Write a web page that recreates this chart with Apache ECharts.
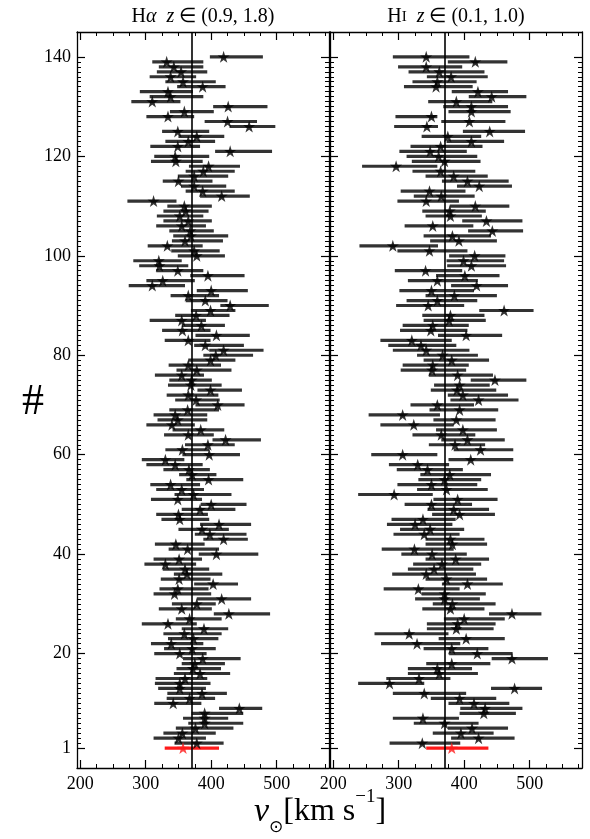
<!DOCTYPE html>
<html>
<head>
<meta charset="utf-8">
<script src="https://cdn.jsdelivr.net/npm/echarts@6/dist/echarts.min.js"></script>
<style>
  html, body { margin: 0; padding: 0; background: #fff; }
  #chart { width: 590px; height: 839px; }
</style>
</head>
<body>
<div id="chart"></div>
<script>
// H-alpha panel, row 1 (reference, red) first, up to row 140
const haVal = [357,378,350,356,376,390,390,390,443,342,367,386,352,352,360,383,372,375,387,352,
  371,339,373,359,389,334,367,427,355,378,416,344,349,403,351,363,360,330,351,408,
  364,346,419,398,386,412,352,350,383,400,349,373,355,338,396,371,366,345,330,397,
  356,395,422,365,384,340,349,345,364,410,377,365,399,369,370,355,378,365,399,407,
  419,391,365,408,356,385,355,377,399,429,391,365,400,310,326,395,349,321,320,378,
  374,333,360,369,368,355,365,352,361,359,312,416,387,374,350,374,388,396,346,345,
  429,349,365,378,349,458,425,334,359,426,310,338,334,387,357,338,354,343,332,419];
const haLo = [329,344,312,327,346,365,357,370,412,313,332,333,319,314,315,343,347,355,357,313,
  328,308,334,327,355,294,346,404,320,340,378,312,321,374,323,343,326,298,312,381,
  335,314,388,375,350,383,324,316,355,384,308,344,316,307,362,351,327,301,294,356,
  330,360,402,328,341,301,318,312,336,376,345,332,379,334,336,314,347,335,365,388,
  397,374,329,376,325,355,306,345,369,414,361,338,378,274,301,368,316,290,281,349,
  339,303,340,342,336,316,327,317,327,333,272,383,361,354,326,349,361,366,308,313,
  406,307,330,350,325,428,390,301,337,403,278,306,291,348,330,306,317,320,310,398];
const haHi = [412,419,392,407,434,449,426,449,478,385,406,424,392,399,394,429,415,421,445,393,
  407,388,411,416,426,378,416,490,401,407,461,400,396,441,399,417,397,377,386,472,
  412,390,456,454,427,461,397,395,437,454,386,431,389,383,449,408,398,387,359,444,
  397,436,476,404,420,375,394,394,412,451,413,411,447,416,401,389,431,415,437,464,
  480,450,399,459,399,421,392,428,437,488,425,412,456,360,375,451,388,365,355,421,
  413,387,418,426,404,392,401,388,396,401,347,459,436,423,402,426,436,444,387,397,
  493,383,406,420,397,498,470,374,404,486,353,388,372,422,407,377,394,388,388,479];

// H I panel, row 1 (reference, red) first, up to row 140
const hiVal = [381,336,422,395,412,370,337,430,432,415,393,339,477,286,331,362,359,381,473,420,
  381,328,403,316,388,390,400,473,379,382,370,370,330,405,373,342,354,366,387,351,
  324,382,379,339,348,325,337,393,384,350,390,293,373,350,370,378,344,329,410,306,
  425,386,405,365,398,323,388,306,393,359,422,398,389,393,447,390,351,352,381,367,
  342,334,320,403,349,352,377,379,461,345,359,385,350,419,359,401,341,411,399,416,
  347,291,392,382,443,352,434,379,378,417,342,365,347,423,405,384,364,296,370,361,
  348,364,411,375,439,343,408,350,411,411,388,442,421,357,359,380,362,342,417,342];
const hiLo = [342,286,380,352,375,323,291,393,394,376,349,291,441,238,281,314,314,342,442,377,
  338,273,361,263,343,343,369,438,336,352,325,335,277,366,341,290,314,322,341,304,
  274,341,341,292,302,282,289,351,344,309,353,238,328,298,330,333,297,285,376,258,
  384,346,365,321,357,272,353,254,347,318,379,375,349,354,410,346,303,306,338,328,
  291,284,272,360,302,306,338,336,423,296,312,341,301,380,314,357,294,374,373,377,
  298,240,348,338,406,309,397,341,336,378,298,323,303,389,366,341,321,244,320,312,
  301,318,373,335,398,293,365,295,376,368,345,407,381,308,321,343,315,299,375,291];
const hiHi = [437,394,477,445,467,422,392,479,489,469,449,403,519,339,379,421,412,440,528,474,
  437,394,462,376,445,448,462,518,431,448,424,433,393,459,435,418,414,426,438,404,
  384,435,431,393,400,382,387,447,438,412,451,352,436,420,426,441,398,377,475,359,
  475,432,462,417,450,384,448,363,452,415,483,467,449,439,495,444,403,407,438,421,
  408,388,381,458,405,407,433,431,506,400,420,450,415,467,421,454,397,464,461,463,
  405,360,450,441,490,414,489,427,433,469,392,416,402,473,468,436,417,359,425,420,
  404,428,461,426,493,360,463,359,471,467,443,495,467,413,419,436,431,397,466,408];

const refV = 370;
const xMajor = [200, 300, 400, 500];
const yMajor = [1, 20, 40, 60, 80, 100, 120, 140];
const xMinor = [];
for (let v = 225; v <= 575; v += 25) if (xMajor.indexOf(v) < 0) xMinor.push(v);
const yMinor = [];
for (let v = 2; v <= 139; v++) if (yMajor.indexOf(v) < 0) yMinor.push(v);

const serif = 'Liberation Serif';
const chart = echarts.init(document.getElementById('chart'));

const line = { show: true, onZero: false, lineStyle: { color: '#000', width: 1.3 } };
const noLine = { show: false, onZero: false };

function tick(len, vals) {
  return { show: true, inside: true, length: len, customValues: vals.slice(),
    lineStyle: { color: '#000', width: len > 5 ? 1.2 : 1 } };
}

function xAxes(g) {
  const base = { gridIndex: g, type: 'value', min: 195, max: 580, splitLine: { show: false } };
  return [
    Object.assign({}, base, { position: 'bottom', axisLine: line, axisTick: tick(8, xMajor),
      axisLabel: { show: true, customValues: xMajor.slice(), color: '#000', fontFamily: serif, fontSize: 18, margin: 7 } }),
    Object.assign({}, base, { position: 'bottom', axisLine: noLine, axisTick: tick(4, xMinor), axisLabel: { show: false } }),
    Object.assign({}, base, { position: 'top', axisLine: line, axisTick: tick(8, xMajor), axisLabel: { show: false } }),
    Object.assign({}, base, { position: 'top', axisLine: noLine, axisTick: tick(4, xMinor), axisLabel: { show: false } })
  ];
}

function yAxes(g, withLabels) {
  const base = { gridIndex: g, type: 'value', min: -3, max: 145, splitLine: { show: false } };
  return [
    Object.assign({}, base, { position: 'left', axisLine: line, axisTick: tick(8, yMajor),
      axisLabel: withLabels ? { show: true, customValues: yMajor.slice(), color: '#000', fontFamily: serif, fontSize: 18, margin: 6 } : { show: false } }),
    Object.assign({}, base, { position: 'left', axisLine: noLine, axisTick: tick(4, yMinor), axisLabel: { show: false } }),
    Object.assign({}, base, { position: 'right', axisLine: line, axisTick: tick(8, yMajor), axisLabel: { show: false } }),
    Object.assign({}, base, { position: 'right', axisLine: noLine, axisTick: tick(4, yMinor), axisLabel: { show: false } })
  ];
}

const starPath = 'path://M50,0 L61.2,34.5 L97.6,34.5 L68.2,55.9 L79.4,90.5 L50,69.1 L20.6,90.5 L31.8,55.9 L2.4,34.5 L38.8,34.5 Z';

function barItem(params, api) {
  const p1 = api.coord([api.value(0), api.value(2)]);
  const p2 = api.coord([api.value(1), api.value(2)]);
  return {
    type: 'rect',
    shape: { x: p1[0], y: p1[1] - 1.6, width: p2[0] - p1[0], height: 3.2 },
    style: { fill: api.visual('color') }
  };
}

function panelSeries(g, vals, lo, hi) {
  const xi = g * 4, yi = g * 4;
  const bars = vals.map((v, i) => ({
    value: [lo[i], hi[i], i + 1],
    itemStyle: { color: i === 0 ? '#ff1a1a' : '#333333' }
  }));
  const stars = vals.map((v, i) => ({
    value: [v, i + 1],
    itemStyle: { color: i === 0 ? '#ff1a1a' : '#000000' }
  }));
  return [
    { type: 'custom', xAxisIndex: xi, yAxisIndex: yi, renderItem: barItem, data: bars,
      encode: { x: [0, 1], y: 2 }, z: 2, silent: true },
    { type: 'scatter', xAxisIndex: xi, yAxisIndex: yi, data: stars, symbol: starPath, symbolSize: 12,
      z: 4, silent: true,
      markLine: { silent: true, symbol: 'none', z: 3, label: { show: false },
        lineStyle: { color: '#000', width: 1.6, type: 'solid' }, data: [{ xAxis: refV }] } }
  ];
}

const titleRich = {
  r: { fontFamily: serif, fontSize: 20, fill: '#000' },
  i: { fontFamily: serif, fontStyle: 'italic', fontSize: 20, fill: '#000' },
  s: { fontFamily: serif, fontSize: 15, fill: '#000' }
};

const option = {
  animation: false,
  backgroundColor: '#fff',
  grid: [
    { left: 77, top: 32, width: 252, height: 736 },
    { left: 330, top: 32, width: 252, height: 736 }
  ],
  xAxis: xAxes(0).concat(xAxes(1)),
  yAxis: yAxes(0, true).concat(yAxes(1, false)),
  series: panelSeries(0, haVal, haLo, haHi).concat(panelSeries(1, hiVal, hiLo, hiHi)),
  graphic: [
    { type: 'text', style: {
        x: 203, y: 17, align: 'center', verticalAlign: 'middle',
        text: '{r|H}{i|α}{r|  }{i|z}{r| ∈ (0.9, 1.8)}', rich: titleRich
      } },
    { type: 'text', style: {
        x: 456, y: 17, align: 'center', verticalAlign: 'middle',
        text: '{r|H}{s|I}{r|  }{i|z}{r| ∈ (0.1, 1.0)}', rich: titleRich
      } },
    { type: 'text', style: {
        x: 33, y: 402, align: 'center', verticalAlign: 'middle',
        text: '#', fontFamily: serif, fontSize: 44, fill: '#000'
      } },
    { type: 'text', style: {
        x: 320, y: 812, align: 'center', verticalAlign: 'middle',
        text: '{v|v}{o|⊙}{n|[km s}{e|−1}{n|]}',
        rich: {
          v: { fontFamily: serif, fontStyle: 'italic', fontSize: 34, fill: '#000', lineHeight: 40 },
          o: { fontFamily: 'DejaVu Sans', fontSize: 17, fill: '#000', lineHeight: 26, verticalAlign: 'bottom' },
          n: { fontFamily: serif, fontSize: 32, fill: '#000', lineHeight: 40 },
          e: { fontFamily: serif, fontSize: 19, fill: '#000', lineHeight: 48, verticalAlign: 'top' }
        }
      } }
  ]
};
chart.setOption(option);
</script>
</body>
</html>
